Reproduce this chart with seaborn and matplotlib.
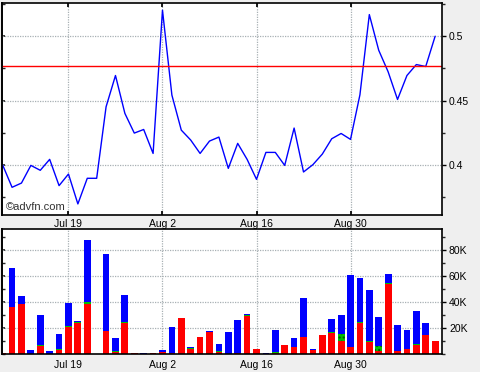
import numpy as np
import pandas as pd
import matplotlib
matplotlib.use("Agg")
import matplotlib.pyplot as plt
import seaborn as sns
from matplotlib.ticker import MultipleLocator, FuncFormatter, FixedLocator

# ---- data ----
dates = pd.bdate_range("2021-07-08", "2021-09-10")
price = [0.400, 0.3827, 0.386, 0.3997, 0.3959, 0.4044, 0.384, 0.393, 0.3698, 0.3897,
         0.3897, 0.4452, 0.4695, 0.4401, 0.4248, 0.4276, 0.409, 0.5202, 0.4543, 0.4271,
         0.4194, 0.409, 0.4186, 0.4217, 0.3974, 0.4168, 0.4044, 0.3889, 0.4098, 0.4098,
         0.3997, 0.4287, 0.3946, 0.4003, 0.4085, 0.4204, 0.4245, 0.4199, 0.4545, 0.5168,
         0.4891, 0.4724, 0.4509, 0.4695, 0.478, 0.4765, 0.500]
ref_level = 0.4765
vol_red = [1.3, 36.4, 39.0, 0, 6.7, 0, 3.6, 21.0, 24.4, 39.0,
           0, 17.7, 1.8, 24.1, 1.0, 0, 1.0, 2.0, 0.8, 28.0,
           4.1, 13.3, 17.2, 1.8, 0, 0.8, 29.5, 4.1, 0, 1.0,
           7.2, 5.6, 13.3, 3.6, 14.9, 16.2, 10.3, 5.4, 23.8, 9.7,
           2.6, 54.4, 2.6, 4.1, 7.2, 14.9, 10.3]
vol_green = [0, 0, 0, 0, 0.7, 0, 0.8, 0.8, 0.8, 1.5,
             0, 0, 0.8, 1.0, 0, 0, 0, 0, 0, 0,
             1.0, 0, 0, 0.8, 0, 0, 0.8, 0, 0, 0.8,
             0, 0, 0, 0, 0, 0.8, 5.4, 0.5, 1.0, 0.5,
             3.8, 0.8, 0, 0, 0.8, 0, 0]
vol_blue = [0, 30.0, 5.9, 3.3, 22.9, 2.6, 11.2, 17.7, 0.7, 47.5,
            0, 59.5, 10.0, 20.5, 0, 1.0, 0, 1.3, 20.2, 0,
            0.5, 0, 0.8, 5.4, 17.2, 25.6, 0.5, 0, 1.0, 16.9,
            0, 7.0, 30.0, 0.5, 0, 10.2, 14.6, 55.1, 33.9, 39.3,
            22.3, 6.6, 20.0, 14.6, 25.3, 9.2, 0]
tick_labels = ["Jul 19", "Aug 2", "Aug 16", "Aug 30"]
price_ticks = [0.4, 0.45, 0.5]
vol_ticks = [20, 40, 60, 80]

# ---- frame ----
df = pd.DataFrame({"i": np.arange(len(dates)), "price": price,
                   "red": vol_red, "green": vol_green, "blue": vol_blue})
df["rg"] = df["red"] + df["green"]
df["total"] = df["rg"] + df["blue"]
day_labels = [f"{d:%b} {d.day}" for d in dates]
tick_pos = [day_labels.index(t) for t in tick_labels]

sns.set_theme(style="white")
plt.rcParams["font.family"] = ["Liberation Sans", "DejaVu Sans"]

fig = plt.figure(figsize=(4.8, 3.72), dpi=100, facecolor="#efefef")
ax1 = fig.add_axes([2 / 480, 1 - 215 / 372, 440 / 480, 212 / 372])
ax2 = fig.add_axes([2 / 480, 1 - 354.3 / 372, 440 / 480, 125 / 372])

grid_kw = dict(color="#a8b0b4", linestyle=(0, (1, 1)), linewidth=0.9)
xlim = (-0.07, 46.73)

# ---- price panel ----
sns.lineplot(data=df, x="i", y="price", color="#0000ff", linewidth=1.0, ax=ax1)
ax1.axhline(ref_level, color="#ff0000", linewidth=1.0)
ax1.set_xlim(*xlim)
ax1.set_ylim(0.3612, 0.5258)
ax1.set_xlabel("")
ax1.set_ylabel("")
ax1.set_xticks(tick_pos)
ax1.set_xticklabels(tick_labels)
ax1.yaxis.tick_right()
ax1.yaxis.set_major_locator(FixedLocator(price_ticks))
ax1.yaxis.set_minor_locator(MultipleLocator(0.025))
ax1.yaxis.set_major_formatter(FuncFormatter(lambda v, p: f"{v:g}"))
ax1.tick_params(axis="y", which="major", direction="out", length=3, width=1,
                labelsize=7.5, pad=2, colors="black")
ax1.tick_params(axis="y", which="minor", direction="out", length=2, width=1, right=True)
ax1.tick_params(axis="x", direction="in", length=3, bottom=True, top=True,
                labelsize=7.5, pad=3, colors="black")
ax1.grid(True, which="major", **grid_kw)
ax1.set_axisbelow(True)
ax1.text(6 / 480, 1 - 207 / 372, "\u00a9advfn.com", transform=fig.transFigure,
         ha="left", va="center", fontsize=8, color="#333333")

# ---- volume panel ----
sns.barplot(data=df, x="i", y="total", color="#0000ff", saturation=1, width=0.72,
            native_scale=True, errorbar=None, linewidth=0, ax=ax2)
n0 = len(ax2.patches)
sns.barplot(data=df, x="i", y="rg", color="#00c000", saturation=1, width=0.72,
            native_scale=True, errorbar=None, linewidth=0, ax=ax2)
for p, g in zip(ax2.patches[n0:], vol_green):
    if g >= 3:
        p.set_hatch("....")
        p.set_edgecolor("#005000")
sns.barplot(data=df, x="i", y="red", color="#ff0000", saturation=1, width=0.72,
            native_scale=True, errorbar=None, linewidth=0, ax=ax2)
ax2.set_xlim(*xlim)
ax2.set_ylim(0, 96.2)
ax2.set_xlabel("")
ax2.set_ylabel("")
ax2.set_xticks(tick_pos)
ax2.set_xticklabels(tick_labels)
ax2.tick_params(axis="x", direction="in", length=3, labelbottom=True,
                top=False, bottom=True, labelsize=7.5, pad=4, colors="black")
ax2.yaxis.tick_right()
ax2.yaxis.set_major_locator(FixedLocator(vol_ticks))
ax2.yaxis.set_minor_locator(MultipleLocator(10))
ax2.yaxis.set_major_formatter(FuncFormatter(lambda v, p: f"{int(v)}K"))
ax2.tick_params(axis="y", which="major", direction="out", length=3, width=1,
                labelsize=7.5, pad=2, colors="black")
ax2.tick_params(axis="y", which="minor", direction="out", length=2, width=1, right=True)
ax2.grid(True, which="major", **grid_kw)
ax2.set_axisbelow(True)

for ax in (ax1, ax2):
    ax.set_facecolor("white")
    for s in ax.spines.values():
        s.set_visible(True)
        s.set_color("black")
        s.set_linewidth(1.2)
    sec = ax.secondary_yaxis("left")
    sec.set_yticks(ax.get_yticks(minor=False))
    sec.yaxis.set_minor_locator(ax.yaxis.get_minor_locator())
    sec.tick_params(which="both", direction="in", length=2.5, labelleft=False)
    sec.spines["left"].set_color("black")
    sec.spines["left"].set_linewidth(1.2)

fig.savefig("out.png", dpi=100, facecolor=fig.get_facecolor())
